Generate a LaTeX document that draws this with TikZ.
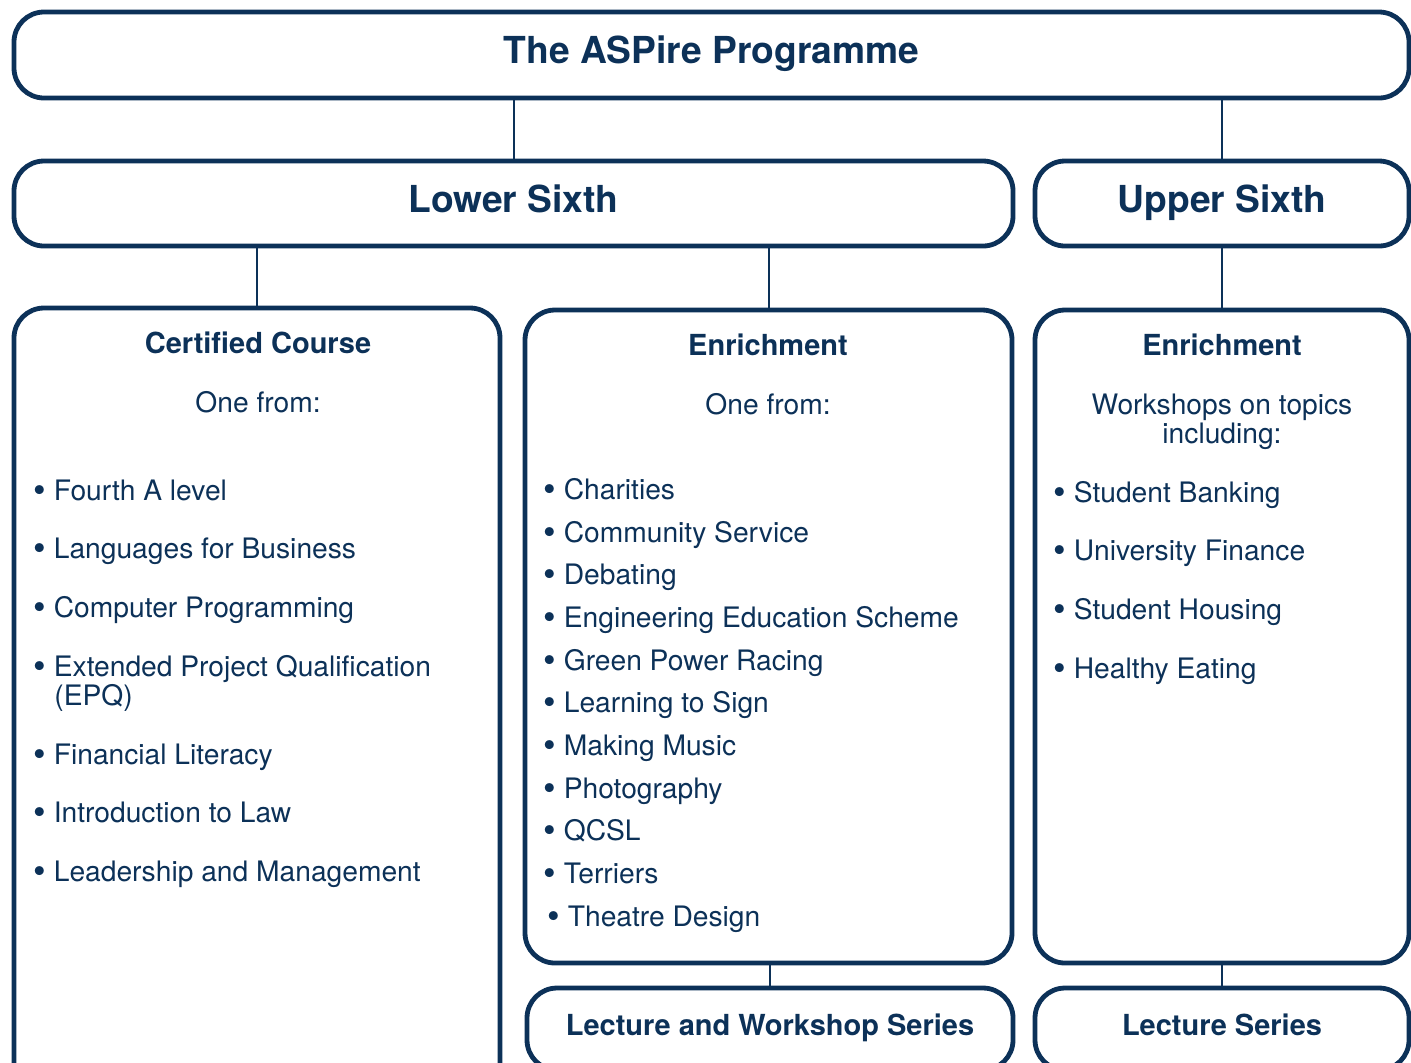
\documentclass[tikz,border=0pt]{standalone}
\usepackage{fontspec}
\setmainfont{TeX Gyre Heros}
\definecolor{navy}{RGB}{12,49,88}
\newcommand{\blt}{\raisebox{-1pt}{\fontsize{18}{18}\selectfont•}\ }
\begin{document}
\begin{tikzpicture}[x=0.5pt,y=-0.5pt,
  box/.style={draw=navy,line width=2.4pt,rounded corners=15pt,text=navy,inner sep=0pt,
    font=\bfseries\fontsize{14.5}{17}\selectfont},
  big/.style={font=\bfseries\fontsize{18.6}{22}\selectfont,text depth=5pt},
  link/.style={draw=navy,line width=1pt},
  head/.style={text=navy,inner sep=0pt,anchor=base,font=\bfseries\fontsize{14.5}{17}\selectfont},
  body/.style={text=navy,inner sep=0pt,anchor=base,font=\fontsize{14.1}{16}\selectfont},
  item/.style={text=navy,inner sep=0pt,anchor=base west,font=\fontsize{14.1}{16}\selectfont}]
\clip (0,0) rectangle (1411,1062);

% top row
\node[box,big,minimum width=697.5pt,minimum height=43pt] (title) at (711.5,55) {The ASPire Programme};

% sixth forms
\node[box,big,minimum width=499.5pt,minimum height=42.5pt] (lower) at (513.5,203.5) {Lower Sixth};
\node[box,big,minimum width=187pt,minimum height=42.5pt] (upper) at (1222,203.5) {Upper Sixth};

% course boxes
\node[box,minimum width=243pt,minimum height=401pt] (cert) at (257,709) {};
\node[box,minimum width=243.5pt,minimum height=326.5pt] (enrL) at (768.5,636.5) {};
\node[box,minimum width=187pt,minimum height=326.5pt] (enrU) at (1222,636.5) {};

% lecture boxes
\node[box,text depth=4pt,minimum width=243pt,minimum height=41pt] (lws) at (770,1029) {Lecture and Workshop Series};
\node[box,text depth=4pt,minimum width=187pt,minimum height=41pt] (ls) at (1222,1029) {Lecture Series};

% links
\draw[link] (lower.north) -- (lower.north |- title.south);
\draw[link] (upper.north) -- (upper.north |- title.south);
\draw[link] (cert.north) -- (cert.north |- lower.south);
\draw[link] (enrL.north) -- (enrL.north |- lower.south);
\draw[link] (enrU.north) -- (enrU.north |- upper.south);
\draw[link] (lws.north) -- (lws.north |- enrL.south);
\draw[link] (ls.north) -- (ls.north |- enrU.south);

% Certified Course
\node[head] (certHead) at (258,353) {Certified Course};
\node[body] (certOne) at (258,412) {One from:};
\foreach \yy/\txt in {500/Fourth A level,558/Languages for Business,617/Computer Programming,
    676/Extended Project Qualification,764/Financial Literacy,822/Introduction to Law,
    881/Leadership and Management} {
    \node[item] (cert-\yy) at (33,\yy) {\blt\txt};
}
\node[item] (certEPQ) at (54,705) {(EPQ)};

% Enrichment, Lower Sixth
\node[head] (enrLHead) at (768,355) {Enrichment};
\node[body] (enrLOne) at (768,414) {One from:};
\foreach \yy/\txt in {499/Charities,542/Community Service,584/Debating,627/Engineering Education Scheme,
    670/Green Power Racing,712/Learning to Sign,755/Making Music,798/Photography,840/QCSL,883/Terriers} {
    \node[item] (enrL-\yy) at (543,\yy) {\blt\txt};
}
\node[item] (enrL-926) at (547,926) {\blt Theatre Design};

% Enrichment, Upper Sixth
\node[head] (enrUHead) at (1222,355) {Enrichment};
\node[body] (enrUTop) at (1222,414) {Workshops on topics};
\node[body] (enrUInc) at (1222,443) {including:};
\foreach \yy/\txt in {502/Student Banking,560/University Finance,619/Student Housing,678/Healthy Eating} {
    \node[item] (enrU-\yy) at (1053,\yy) {\blt\txt};
}
\end{tikzpicture}
\end{document}
